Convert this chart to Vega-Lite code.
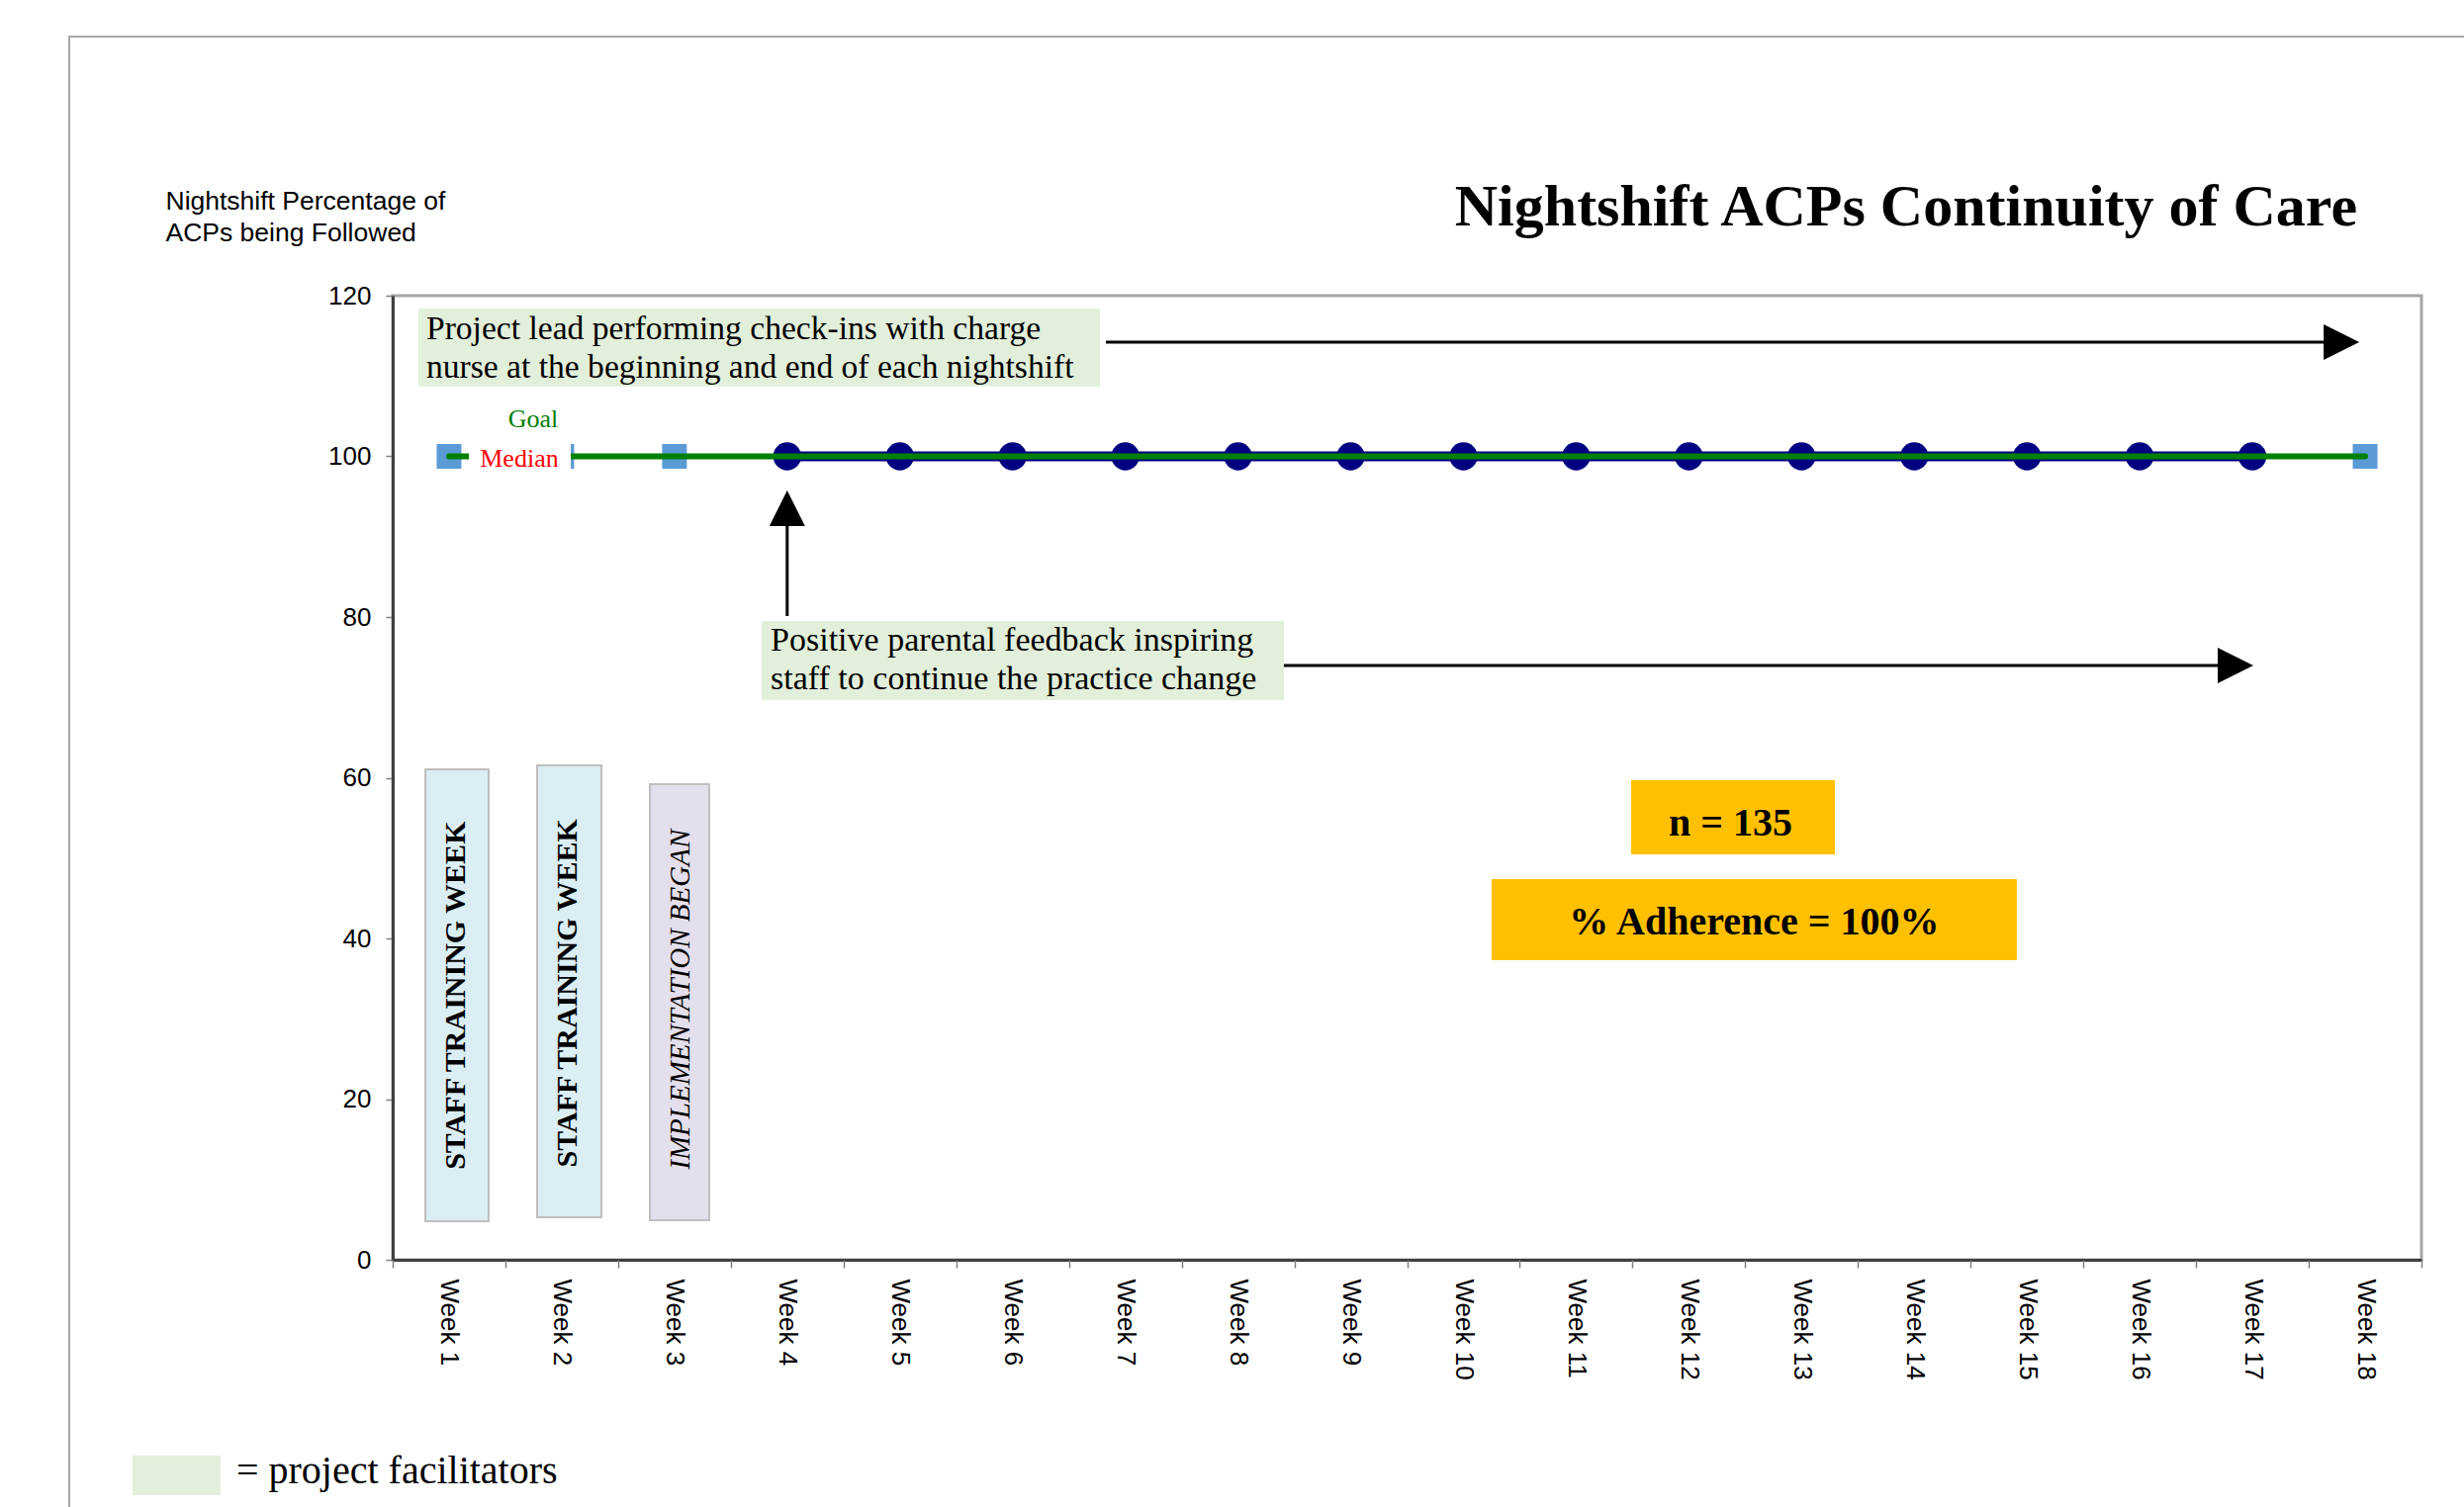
{
  "$schema": "https://vega.github.io/schema/vega-lite/v6.json",
  "width": 2051,
  "height": 975,
  "autosize": "none",
  "padding": {"left": 397, "top": 299, "right": 43, "bottom": 250},
  "background": "white",
  "config": {"view": {"stroke": "#A6A6A6", "strokeWidth": 3}, "axis": {"grid": false}},
  "datasets": {
    "weeks": [
      {"week": 1, "pct": 100, "series": "Reference"},
      {"week": 2, "pct": 100, "series": "Reference"},
      {"week": 3, "pct": 100, "series": "Reference"},
      {"week": 4, "pct": 100, "series": "Observed"},
      {"week": 5, "pct": 100, "series": "Observed"},
      {"week": 6, "pct": 100, "series": "Observed"},
      {"week": 7, "pct": 100, "series": "Observed"},
      {"week": 8, "pct": 100, "series": "Observed"},
      {"week": 9, "pct": 100, "series": "Observed"},
      {"week": 10, "pct": 100, "series": "Observed"},
      {"week": 11, "pct": 100, "series": "Observed"},
      {"week": 12, "pct": 100, "series": "Observed"},
      {"week": 13, "pct": 100, "series": "Observed"},
      {"week": 14, "pct": 100, "series": "Observed"},
      {"week": 15, "pct": 100, "series": "Observed"},
      {"week": 16, "pct": 100, "series": "Observed"},
      {"week": 17, "pct": 100, "series": "Observed"},
      {"week": 18, "pct": 100, "series": "Reference"}
    ]
  },
  "layer": [
    {
      "layer": [
        {
          "data": {"values": [{}]},
          "mark": {"type": "rect", "fillOpacity": 0, "stroke": "#A6A6A6", "strokeWidth": 2},
          "encoding": {
            "x": {
              "datum": -2.37, "type": "quantitative",
              "scale": {"domain": [0.5, 18.5], "nice": false, "zero": false},
              "axis": {
                "values": [1,2,3,4,5,6,7,8,9,10,11,12,13,14,15,16,17,18],
                "labelExpr": "'Week ' + datum.value",
                "title": null, "ticks": false, "tickSize": 0,
                "labelAngle": 90, "labelAlign": "left", "labelBaseline": "middle",
                "labelPadding": 19, "labelFont": "Liberation Sans", "labelFontSize": 26,
                "labelColor": "#000000", "domainColor": "#404040", "domainWidth": 3,
                "labelOverlap": false, "labelFlush": false, "labelBound": false
              }
            },
            "x2": {"datum": 30},
            "y": {
              "datum": 152.25, "type": "quantitative",
              "scale": {"domain": [0, 120], "nice": false, "zero": true},
              "axis": {
                "values": [0, 20, 40, 60, 80, 100, 120],
                "title": ["Nightshift Percentage of", "ACPs being Followed"],
                "titleAngle": 0, "titleAlign": "left", "titleBaseline": "alphabetic",
                "titleX": -230, "titleY": -88, "titleFont": "Liberation Sans",
                "titleFontSize": 26.5, "titleFontWeight": "normal", "titleLineHeight": 32,
                "titleColor": "#000000",
                "labelFont": "Liberation Sans", "labelFontSize": 26, "labelColor": "#000000",
                "labelPadding": 15, "tickSize": 7, "tickColor": "#808080", "tickWidth": 1.5,
                "domainColor": "#404040", "domainWidth": 3
              }
            },
            "y2": {"datum": -60}
          }
        },
        {
          "data": {"values": [{}]},
          "mark": {"type": "rect", "fill": "#E2EFDA"},
          "encoding": {"x": {"datum": -1.808}, "x2": {"datum": -1.027}, "y": {"datum": -24.37}, "y2": {"datum": -29.29}}
        },
        {
          "data": {"values": [{}]},
          "mark": {"type": "text", "text": "= project facilitators", "font": "Liberation Serif", "fontSize": 40, "align": "left", "baseline": "alphabetic", "color": "#000000"},
          "encoding": {"x": {"datum": -0.887}, "y": {"datum": -27.82}}
        },
        {
          "data": {"values": [{}]},
          "mark": {"type": "text", "text": "Nightshift ACPs Continuity of Care", "font": "Liberation Serif", "fontSize": 60, "fontWeight": "bold", "align": "right", "baseline": "alphabetic", "color": "#000000"},
          "encoding": {"x": {"datum": 17.93}, "y": {"datum": 128.74}}
        },
        {
          "data": {"values": [{}]},
          "mark": {"type": "rect", "fill": "#E2EFDA"},
          "encoding": {"x": {"datum": 0.728}, "x2": {"datum": 6.775}, "y": {"datum": 108.7}, "y2": {"datum": 118.4}}
        },
        {
          "data": {"values": [{}]},
          "mark": {"type": "text", "text": ["Project lead performing check-ins with charge", "nurse at the beginning and end of each nightshift"], "font": "Liberation Serif", "fontSize": 33.6, "lineHeight": 39, "align": "left", "baseline": "alphabetic", "color": "#000000"},
          "encoding": {"x": {"datum": 0.798}, "y": {"datum": 114.58}}
        },
        {
          "data": {"values": [{}]},
          "mark": {"type": "rule", "color": "#000000", "strokeWidth": 3},
          "encoding": {"x": {"datum": 6.828}, "x2": {"datum": 17.79}, "y": {"datum": 114.22}}
        },
        {
          "data": {"values": [{}]},
          "mark": {"type": "point", "shape": "M-1,-1L1,0L-1,1Z", "filled": true, "color": "#000000", "size": 1296, "opacity": 1, "strokeWidth": 0},
          "encoding": {"x": {"datum": 17.79}, "y": {"datum": 114.22}}
        },
        {
          "data": {"values": [{}]},
          "mark": {"type": "rect", "fill": "#E2EFDA"},
          "encoding": {"x": {"datum": 3.774}, "x2": {"datum": 8.407}, "y": {"datum": 69.66}, "y2": {"datum": 79.5}}
        },
        {
          "data": {"values": [{}]},
          "mark": {"type": "text", "text": ["Positive parental feedback inspiring", "staff to continue the practice change"], "font": "Liberation Serif", "fontSize": 34, "lineHeight": 39, "align": "left", "baseline": "alphabetic", "color": "#000000"},
          "encoding": {"x": {"datum": 3.853}, "y": {"datum": 75.82}}
        },
        {
          "data": {"values": [{}]},
          "mark": {"type": "rule", "color": "#000000", "strokeWidth": 3},
          "encoding": {"x": {"datum": 8.407}, "x2": {"datum": 16.85}, "y": {"datum": 73.97}}
        },
        {
          "data": {"values": [{}]},
          "mark": {"type": "point", "shape": "M-1,-1L1,0L-1,1Z", "filled": true, "color": "#000000", "size": 1296, "opacity": 1, "strokeWidth": 0},
          "encoding": {"x": {"datum": 16.85}, "y": {"datum": 73.97}}
        },
        {
          "data": {"values": [{}]},
          "mark": {"type": "rule", "color": "#000000", "strokeWidth": 3},
          "encoding": {"x": {"datum": 4.0}, "y": {"datum": 80.12}, "y2": {"datum": 93.54}}
        },
        {
          "data": {"values": [{}]},
          "mark": {"type": "point", "shape": "M-1,1L0,-1L1,1Z", "filled": true, "color": "#000000", "size": 1296, "opacity": 1, "strokeWidth": 0},
          "encoding": {"x": {"datum": 4.0}, "y": {"datum": 93.54}}
        },
        {
          "data": {"values": [{}]},
          "mark": {"type": "rect", "fill": "#DAEEF3", "stroke": "#BFBFBF", "strokeWidth": 2},
          "encoding": {"x": {"datum": 0.79}, "x2": {"datum": 1.351}, "y": {"datum": 4.8}, "y2": {"datum": 61.05}}
        },
        {
          "data": {"values": [{}]},
          "mark": {"type": "rect", "fill": "#DAEEF3", "stroke": "#BFBFBF", "strokeWidth": 2},
          "encoding": {"x": {"datum": 1.781}, "x2": {"datum": 2.352}, "y": {"datum": 5.29}, "y2": {"datum": 61.54}}
        },
        {
          "data": {"values": [{}]},
          "mark": {"type": "rect", "fill": "#E4DFEC", "stroke": "#BFBFBF", "strokeWidth": 2},
          "encoding": {"x": {"datum": 2.782}, "x2": {"datum": 3.308}, "y": {"datum": 4.92}, "y2": {"datum": 59.2}}
        },
        {
          "data": {"values": [{}]},
          "mark": {"type": "text", "text": "STAFF TRAINING WEEK", "angle": 270, "font": "Liberation Serif", "fontSize": 30, "fontWeight": "bold", "align": "center", "baseline": "middle", "color": "#000000"},
          "encoding": {"x": {"datum": 1.064}, "y": {"datum": 32.9}}
        },
        {
          "data": {"values": [{}]},
          "mark": {"type": "text", "text": "STAFF TRAINING WEEK", "angle": 270, "font": "Liberation Serif", "fontSize": 30, "fontWeight": "bold", "align": "center", "baseline": "middle", "color": "#000000"},
          "encoding": {"x": {"datum": 2.053}, "y": {"datum": 33.2}}
        },
        {
          "data": {"values": [{}]},
          "mark": {"type": "text", "text": "IMPLEMENTATION BEGAN", "angle": 270, "font": "Liberation Serif", "fontSize": 29, "fontStyle": "italic", "align": "center", "baseline": "middle", "color": "#000000"},
          "encoding": {"x": {"datum": 3.05}, "y": {"datum": 32.4}}
        },
        {
          "data": {"values": [{}]},
          "mark": {"type": "rect", "fill": "#FFC000"},
          "encoding": {"x": {"datum": 11.488}, "x2": {"datum": 13.296}, "y": {"datum": 50.46}, "y2": {"datum": 59.69}}
        },
        {
          "data": {"values": [{}]},
          "mark": {"type": "text", "text": "n = 135", "font": "Liberation Serif", "fontSize": 40, "fontWeight": "bold", "align": "center", "baseline": "alphabetic", "color": "#000000"},
          "encoding": {"x": {"datum": 12.37}, "y": {"datum": 52.8}}
        },
        {
          "data": {"values": [{}]},
          "mark": {"type": "rect", "fill": "#FFC000"},
          "encoding": {"x": {"datum": 10.25}, "x2": {"datum": 14.91}, "y": {"datum": 37.29}, "y2": {"datum": 47.38}}
        },
        {
          "data": {"values": [{}]},
          "mark": {"type": "text", "text": "% Adherence = 100%", "font": "Liberation Serif", "fontSize": 40, "fontWeight": "bold", "align": "center", "baseline": "alphabetic", "color": "#000000"},
          "encoding": {"x": {"datum": 12.58}, "y": {"datum": 40.49}}
        },
        {
          "data": {"name": "weeks"},
          "transform": [{"filter": "datum.series === 'Observed'"}],
          "mark": {"type": "line", "color": "#000080", "strokeWidth": 10},
          "encoding": {
            "x": {"field": "week", "type": "quantitative"},
            "y": {"field": "pct", "type": "quantitative"}
          }
        },
        {
          "data": {"name": "weeks"},
          "transform": [{"filter": "datum.series === 'Reference'"}],
          "mark": {"type": "point", "shape": "square", "filled": true, "color": "#5B9BD5", "size": 625, "opacity": 1, "strokeWidth": 0},
          "encoding": {
            "x": {"field": "week", "type": "quantitative"},
            "y": {"field": "pct", "type": "quantitative"}
          }
        },
        {
          "data": {"name": "weeks"},
          "transform": [{"filter": "datum.series === 'Observed'"}],
          "mark": {"type": "point", "shape": "circle", "filled": true, "color": "#000080", "size": 804, "opacity": 1, "strokeWidth": 0},
          "encoding": {
            "x": {"field": "week", "type": "quantitative"},
            "y": {"field": "pct", "type": "quantitative"}
          }
        },
        {
          "data": {"values": [{}]},
          "mark": {"type": "rule", "color": "#008000", "strokeWidth": 6, "strokeCap": "round"},
          "encoding": {"x": {"datum": 1}, "x2": {"datum": 18}, "y": {"datum": 100}}
        }
      ]
    },
    {
      "layer": [
        {
          "data": {"values": [{}]},
          "mark": {"type": "rect", "fill": "#FFFFFF"},
          "encoding": {
            "x": {
              "datum": 1.176, "type": "quantitative",
              "axis": {
                "orient": "bottom",
                "values": [0.5,1.5,2.5,3.5,4.5,5.5,6.5,7.5,8.5,9.5,10.5,11.5,12.5,13.5,14.5,15.5,16.5,17.5,18.5],
                "labels": false, "domain": false, "title": null,
                "tickSize": 8, "tickColor": "#808080", "tickWidth": 1.5
              }
            },
            "x2": {"datum": 2.08},
            "y": {"datum": 98.2},
            "y2": {"datum": 101.8}
          }
        },
        {
          "data": {"values": [{}]},
          "mark": {"type": "text", "text": "Median", "font": "Liberation Serif", "fontSize": 26, "align": "center", "baseline": "alphabetic", "color": "#FF0000"},
          "encoding": {"x": {"datum": 1.623}, "y": {"datum": 98.71}}
        },
        {
          "data": {"values": [{}]},
          "mark": {"type": "text", "text": "Goal", "font": "Liberation Serif", "fontSize": 26, "align": "center", "baseline": "alphabetic", "color": "#008000"},
          "encoding": {"x": {"datum": 1.746}, "y": {"datum": 103.63}}
        }
      ]
    }
  ],
  "resolve": {"axis": {"x": "independent"}}
}
